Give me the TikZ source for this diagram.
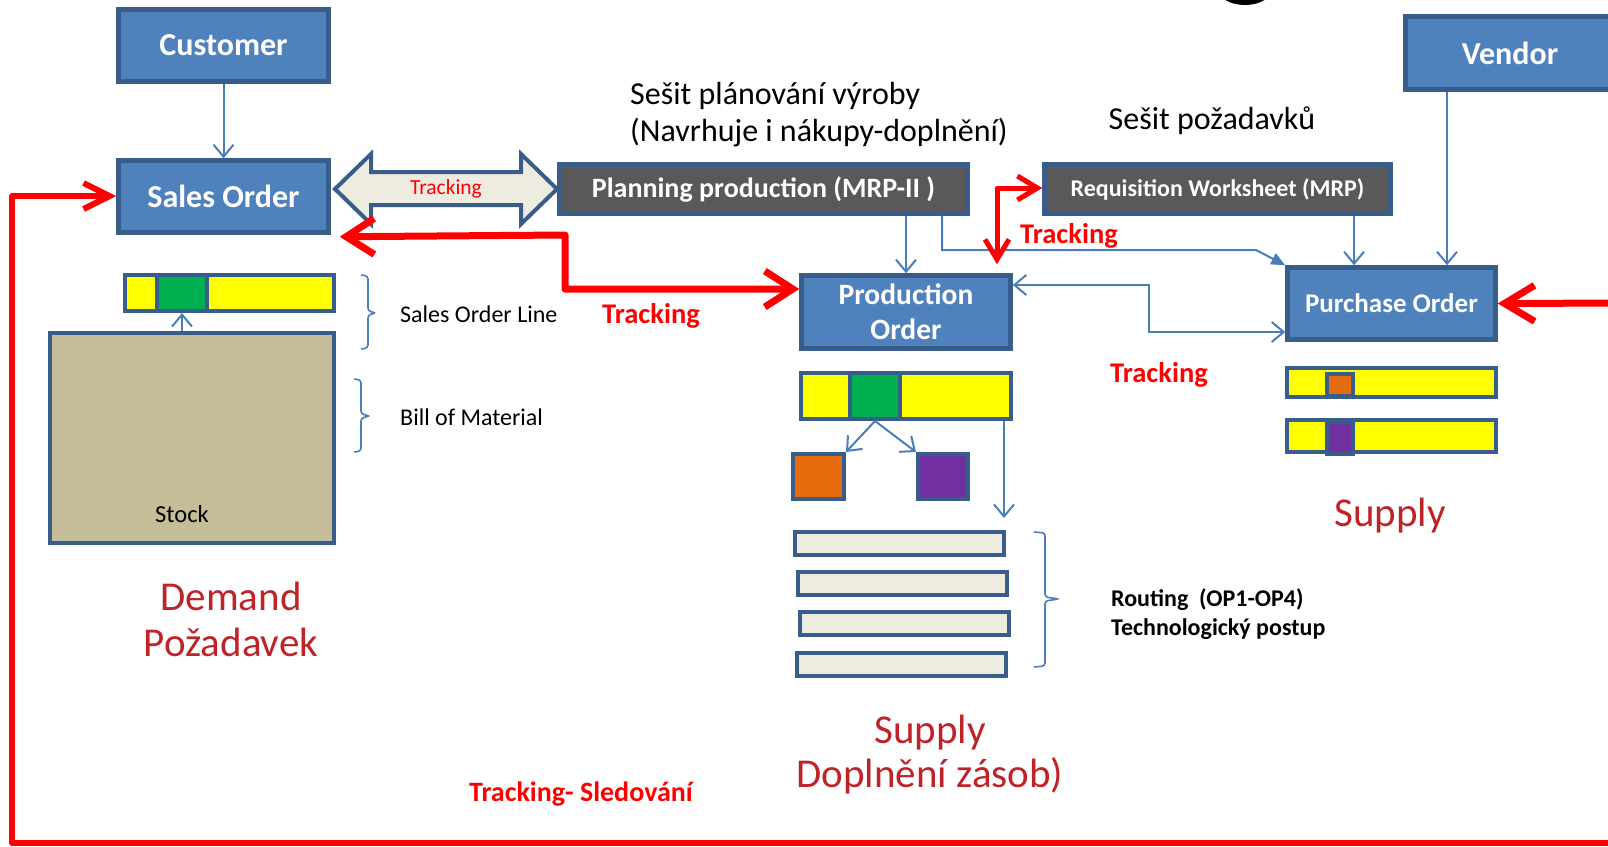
\documentclass[tikz,border=0pt]{standalone}
\usepackage{fontspec}
\setmainfont{Carlito}
\usetikzlibrary{arrows.meta}
\definecolor{bfill}{RGB}{79,129,189}
\definecolor{bborder}{RGB}{56,93,138}
\definecolor{dgray}{RGB}{89,89,89}
\definecolor{lblue}{RGB}{74,126,187}
\definecolor{ybar}{RGB}{255,255,0}
\definecolor{gseg}{RGB}{0,176,80}
\definecolor{oseg}{RGB}{228,108,10}
\definecolor{pseg}{RGB}{112,48,160}
\definecolor{stockc}{RGB}{196,189,151}
\definecolor{cream}{RGB}{238,236,225}
\definecolor{dred}{RGB}{190,35,40}
\definecolor{tred}{RGB}{255,0,0}
\newcommand{\fs}[2]{\fontsize{#1}{#2}\selectfont}
\tikzset{
  bluebox/.style={draw=bborder, fill=bfill, line width=4.5pt, text=white, font=\bfseries\fs{32}{36}, inner sep=0pt, align=center},
  graybox/.style={draw=bborder, fill=dgray, line width=4.5pt, text=white, font=\bfseries\fs{28}{32}, inner sep=0pt, align=center},
  barbox/.style={draw=bborder, line width=4pt, inner sep=0pt},
  conn/.style={draw=lblue, line width=2pt, -{Straight Barb[length=12pt,width=20pt]}},
  conn2/.style={draw=lblue, line width=2pt, {Straight Barb[length=12pt,width=20pt]}-{Straight Barb[length=12pt,width=20pt]}},
  brace/.style={draw=lblue, line width=1.6pt, rounded corners=3pt},
  redlink/.style={draw=tred, line cap=round, line join=round},
  trk/.style={text=tred, font=\bfseries\fs{28.5}{32}},
  bigred/.style={text=dred, font=\fs{41}{46}, align=center},
  plain/.style={text=black, inner sep=0pt},
}
\begin{document}
\begin{tikzpicture}[x=1pt,y=-1pt]
\useasboundingbox (0,0) rectangle (1608,846);
\clip (0,0) rectangle (1608,846);
\fill[white] (0,0) rectangle (1608,846);
% partial glyph at top
\fill[black] (1245,-11) ellipse [x radius=27pt, y radius=16pt];

% main boxes
\node[bluebox, minimum width=210pt, minimum height=72pt] (cust) at (223.5,45.5) {Customer};
\node[bluebox, minimum width=210pt, minimum height=72pt] (so) at (223.5,196.5) {Sales Order};
\node[graybox, minimum width=408pt, minimum height=49pt] (plan) at (763.5,189) {Planning production (MRP-II )};
\node[graybox, font=\bfseries\fs{24}{28}, minimum width=346pt, minimum height=49pt] (req) at (1217.5,189) {Requisition Worksheet (MRP)};
\node[bluebox, minimum width=209pt, minimum height=73pt] (vend) at (1510,53) {Vendor};
\node[bluebox, font=\bfseries\fs{27}{32}, minimum width=208pt, minimum height=72pt] (po) at (1391.5,303.5) {Purchase Order};
\node[bluebox, font=\bfseries\fs{29.5}{35}, minimum width=209pt, minimum height=73pt] (prod) at (906,312) {Production\\Order};

% headings
\node[plain, anchor=west, align=left, font=\fs{32}{37}] (t1) at (630,115) {Sešit plánování výroby\\(Navrhuje i nákupy-doplnění)};
\node[plain, font=\fs{32}{37}] (t2) at (1212,121) {Sešit požadavků};

% double block arrow
\draw[draw=bborder, fill=cream, line width=4pt, line join=miter]
  (335,189) -- (371,154) -- (371,172) -- (521,172) -- (521,154) -- (557,189)
  -- (521,224) -- (521,205) -- (371,205) -- (371,224) -- cycle;
\node[text=tred, font=\fs{21.5}{24}] (trk0) at (446,189) {Tracking};

% sales order line and stock
\node[barbox, fill=ybar, minimum width=209pt, minimum height=36pt] (solbar) at (229.5,293) {};
\node[barbox, fill=gseg, minimum width=50pt, minimum height=36pt] (solg) at (182,293) {};
\node[barbox, fill=stockc, minimum width=284pt, minimum height=210pt] (stock) at (192,438) {};
\node[plain, font=\fs{24.5}{28}] (stocklbl) at (182,514) {Stock};
\draw[conn] (stock.north -| solg) -- (solg.south);

% braces left
\draw[brace] (361,275) -- (368,276) -- (368,311) -- (376,313) -- (368,315) -- (368,348) -- (361,349);
\draw[brace] (354,379) -- (361,380) -- (361,414) -- (370,416) -- (361,418) -- (361,451) -- (354,452);
\node[plain, anchor=west, font=\fs{24}{28}] (soltxt) at (400,314) {Sales Order Line};
\node[plain, anchor=west, font=\fs{24}{28}] (bomtxt) at (400,417) {Bill of Material};

\node[bigred] (demand) at (231,619) {Demand\\[0pt]Požadavek};

% production order structure
\node[barbox, fill=ybar, minimum width=210pt, minimum height=46pt] (pbar) at (906,396) {};
\node[barbox, fill=gseg, minimum width=50pt, minimum height=46pt] (pg) at (875,396) {};
\node[barbox, fill=oseg, minimum width=51pt, minimum height=45pt] (por) at (818.5,476.5) {};
\node[barbox, fill=pseg, minimum width=50pt, minimum height=45pt] (ppu) at (943,476.5) {};
\draw[conn] (pg.south) -- (por.north east);
\draw[conn] (pg.south) -- (ppu.north west);
\coordinate (rt) at (1004,518);
\draw[conn] (pbar.south -| rt) -- (rt);

\node[barbox, fill=cream, minimum width=209pt, minimum height=23pt] (r1) at (899.5,543.5) {};
\node[barbox, fill=cream, minimum width=209pt, minimum height=23pt] (r2) at (902.5,583.5) {};
\node[barbox, fill=cream, minimum width=209pt, minimum height=23pt] (r3) at (904.5,623.5) {};
\node[barbox, fill=cream, minimum width=209pt, minimum height=23pt] (r4) at (901,664.5) {};
\draw[brace] (1034,532) -- (1045,533) -- (1045,597) -- (1059,599) -- (1045,601) -- (1045,666) -- (1034,667);
\node[plain, anchor=west, align=left, font=\bfseries\fs{24}{29}] (rout) at (1111,614) {Routing\ \ (OP1-OP4)\\Technologický postup};

\node[bigred] (supc) at (930,755) {Supply\\[-2pt]Doplnění zásob)};

% purchase order structure
\node[barbox, fill=ybar, minimum width=209pt, minimum height=29pt] (pb1) at (1391.5,382.5) {};
\node[barbox, fill=oseg, minimum width=26pt, minimum height=22pt] (pbo) at (1340,385) {};
\node[barbox, fill=ybar, minimum width=209pt, minimum height=32pt] (pb2) at (1391.5,436) {};
\node[barbox, fill=pseg, minimum width=26pt, minimum height=32pt] (pbp) at (1340,438) {};
\node[bigred] (supr) at (1390,516) {Supply};

% blue connectors
\draw[conn] (cust.south) -- (so.north);
\draw[conn] (plan.south -| prod) -- (prod.north);
\draw[draw=lblue, line width=2pt, -{Triangle[length=14pt,width=12pt]}] (plan.south -| 942,0) -- (942,250) -- (1256,250) -- (po.north west);
\draw[conn] (req.south -| 1354,0) -- (po.north -| 1354,0);
\draw[conn] (vend.south -| 1447,0) -- (po.north -| 1447,0);
\draw[conn2] (prod.east |- 0,285) -- (1149,285) -- (1149,332) -- (po.west |- 0,332);

% red tracking links
\draw[redlink, line width=7pt, {Straight Barb[length=28pt,width=36pt]}-{Straight Barb[length=28pt,width=36pt]}]
  ([xshift=9pt,yshift=-2pt]so.south east) -- (565,235) -- (565,289) -- (prod.west |- 0,289);
\node[trk] (trk1) at (651,316) {Tracking};

\path (prod.north -| 997,0) ++(0,-9) coordinate (ptrk);
\draw[redlink, line width=5pt, {Straight Barb[length=20pt,width=24pt]}-{Straight Barb[length=20pt,width=24pt]}]
  (ptrk) -- (997,188) -- (req.west |- 0,188);
\node[trk] (trk2) at (1069,236) {Tracking};
\node[trk] (trk3) at (1159,375) {Tracking};

\coordinate (poin) at (1625,303);
\draw[redlink, line width=7pt, -{Straight Barb[length=30pt,width=36pt]}] (poin) -- (po.east);

\coordinate (loopend) at (1625,843);
\draw[redlink, line width=6pt, -{Straight Barb[length=26pt,width=26pt]}] (loopend) -- (12,843) -- (12,196) -- (so.west |- 0,196);
\node[text=tred, font=\bfseries\fs{28}{32}] (trk4) at (581,794) {Tracking- Sledování};
\end{tikzpicture}
\end{document}
